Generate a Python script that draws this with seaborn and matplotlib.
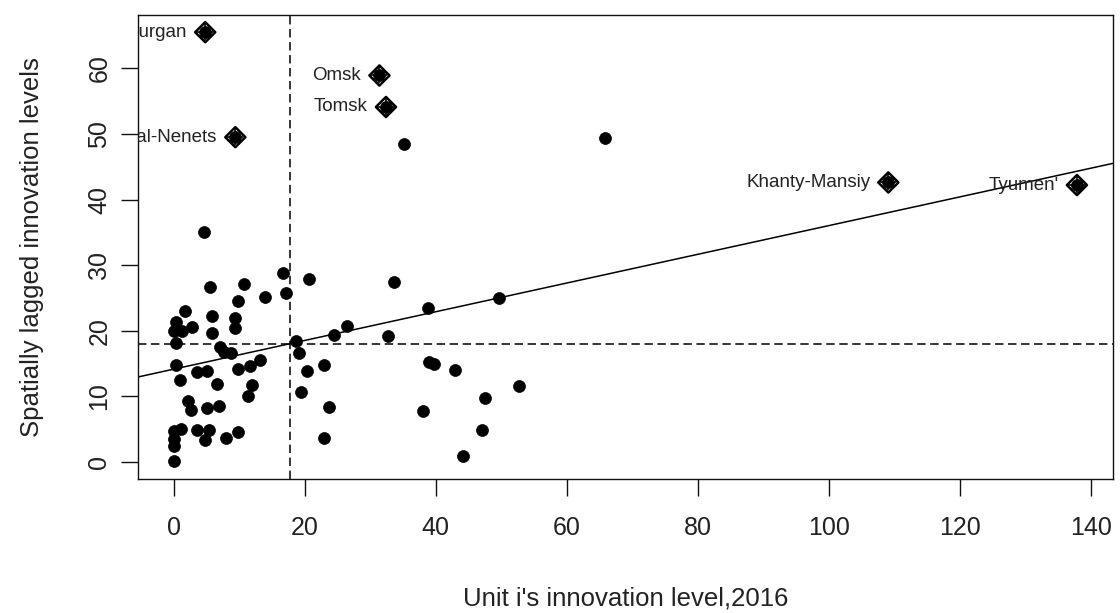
import numpy as np
import pandas as pd
import matplotlib
matplotlib.use("Agg")
import matplotlib.pyplot as plt
import seaborn as sns

# Unit i's innovation level (x) and spatially lagged innovation level (wx)
x_vals = [4.55, 16.7, 20.7, 5.6, 10.7, 14.0, 17.2, 9.8, 1.65, 0.3,
          5.8, 9.4, 2.8, 0.0, 1.25, 5.8, 9.3, 0.3, 7.1, 7.6,
          8.7, 18.7, 24.5, 26.4, 13.2, 0.3, 19.1, 23.0, 11.7, 9.8,
          5.1, 3.5, 20.3, 1.0, 6.6, 11.9, 11.3, 19.5, 2.2, 2.7,
          5.1, 6.9, 23.7, 0.0, 1.1, 3.5, 5.4, 4.8, 8.0, 9.8,
          23.0, 0.1, 0.1, 0.1,
          35.1, 33.6, 38.8, 49.6, 32.7, 39.0, 39.7, 43.0, 52.7, 38.0,
          47.5, 47.1, 44.2, 65.9,
          4.8, 31.4, 32.4, 9.4, 109.1, 137.9]
wx_vals = [35.0, 28.8, 27.9, 26.6, 27.1, 25.2, 25.7, 24.6, 23.0, 21.4,
           22.2, 21.9, 20.6, 20.0, 19.9, 19.7, 20.4, 18.1, 17.6, 16.8,
           16.6, 18.5, 19.3, 20.8, 15.5, 14.8, 16.6, 14.8, 14.6, 14.2,
           13.9, 13.7, 13.9, 12.5, 11.9, 11.7, 10.0, 10.6, 9.3, 8.0,
           8.2, 8.5, 8.4, 4.7, 5.1, 4.9, 4.9, 3.3, 3.7, 4.6,
           3.7, 3.5, 2.4, 0.1,
           48.4, 27.4, 23.4, 25.0, 19.2, 15.3, 15.0, 14.0, 11.6, 7.7,
           9.7, 4.8, 0.85, 49.4,
           65.5, 58.9, 54.1, 49.5, 42.6, 42.2]

# Influential (labelled) regions
infl_names = ["Kurgan", "Omsk", "Tomsk", "Yamal-Nenets", "Khanty-Mansiy", "Tyumen'"]
infl_x = [4.8, 31.4, 32.4, 9.4, 109.1, 137.9]
infl_wx = [65.5, 58.9, 54.1, 49.5, 42.6, 42.2]

# Means and regression line
mean_x = 17.7
mean_wx = 18.0
reg_intercept = 14.15
reg_slope = 0.2187

x_ticks = [0, 20, 40, 60, 80, 100, 120, 140]
y_ticks = [0, 10, 20, 30, 40, 50, 60]

df = pd.DataFrame({"x": x_vals, "wx": wx_vals})
dfi = pd.DataFrame({"x": infl_x, "wx": infl_wx, "name": infl_names})

sns.set_theme(style="white")
plt.rcParams["font.family"] = ["Liberation Sans", "DejaVu Sans"]
plt.rcParams["axes.edgecolor"] = "#111111"
plt.rcParams["axes.linewidth"] = 1.0

fig = plt.figure(figsize=(11.2, 6.13), dpi=100)
ax = fig.add_axes([0.1229, 0.2194, 0.8709, 0.7561])

xr = max(x_vals) - min(x_vals)
yr = max(wx_vals) - min(wx_vals)
ax.set_xlim(min(x_vals) - 0.04 * xr, max(x_vals) + 0.04 * xr)
ax.set_ylim(min(wx_vals) - 0.04 * yr, max(wx_vals) + 0.04 * yr)

ax.axline((0, reg_intercept), slope=reg_slope, color="black", lw=1.1)

sns.scatterplot(data=df, x="x", y="wx", ax=ax, color="black", s=74,
                edgecolor="black", linewidth=0.5, zorder=3)
sns.scatterplot(data=dfi, x="x", y="wx", ax=ax, marker="D", s=105,
                facecolor="none", edgecolor="black", linewidth=1.8, zorder=4)
sns.scatterplot(data=dfi, x="x", y="wx", ax=ax, marker="+", s=130,
                color="black", linewidth=1.2, zorder=4)

ax.axvline(mean_x, color="black", lw=1.1, ls=(0, (5.5, 3)))
ax.axhline(mean_wx, color="black", lw=1.1, ls=(0, (5.5, 3)))

for _, r in dfi.iterrows():
    ax.annotate(r["name"], (r["x"], r["wx"]), xytext=(-13, 0),
                textcoords="offset points", ha="right", va="center",
                fontsize=13.5, color="#222222", annotation_clip=False,
                clip_on=True)

ax.set_xticks(x_ticks)
ax.set_yticks(y_ticks)
ax.tick_params(axis="both", direction="out", length=12, width=1.0,
               color="#111111", labelsize=18, labelcolor="#222222")
ax.tick_params(axis="x", pad=15)
ax.tick_params(axis="y", pad=7)
for lab in ax.get_yticklabels():
    lab.set_rotation(90)
    lab.set_va("center")
ax.tick_params(bottom=True, left=True)

ax.set_xlabel("Unit i's innovation level,2016", fontsize=18.5, color="#222222")
ax.set_ylabel("Spatially lagged innovation levels", fontsize=18.5, color="#222222")
ax.xaxis.set_label_coords(0.5, -0.234)
ax.yaxis.set_label_coords(-0.096, 0.5)

for sp in ax.spines.values():
    sp.set_visible(True)
    sp.set_color("#111111")

fig.savefig("out.png", dpi=100)
